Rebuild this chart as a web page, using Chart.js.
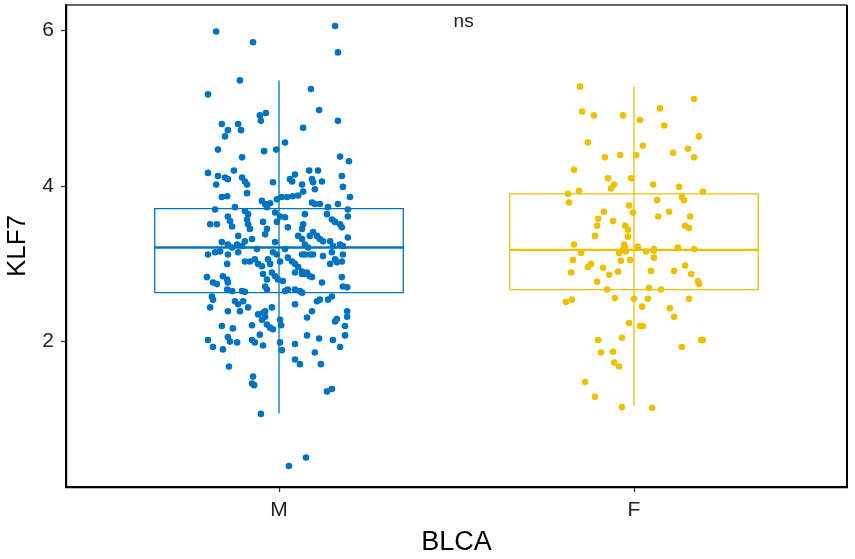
<!DOCTYPE html>
<html>
<head>
<meta charset="utf-8">
<script src="https://cdn.jsdelivr.net/npm/chart.js@4.4.1/dist/chart.umd.min.js"></script>
<style>
  html, body { margin: 0; padding: 0; background: #fff; }
  #wrap { width: 855px; height: 559px; }
</style>
</head>
<body>
<div id="wrap"><canvas id="klf7Chart"></canvas></div>
<script>
// groups on the x axis
const categories = ["M", "F"];
const groupColors = ["#0073C2", "#EFC000"];
const yTicks = [2, 4, 6];

// box statistics per group
const whiskerLow = [1.08, 1.17];
const boxQ1 = [2.63, 2.67];
const boxMedian = [3.21, 3.18];
const boxQ3 = [3.71, 3.90];
const whiskerHigh = [5.36, 5.28];

// male: KLF7 expression and horizontal jitter (category units)
const maleKLF7 = [
  5.99, 5.85, 6.06, 5.72, 5.36, 5.18, 5.25, 4.98, 4.84, 4.91, 4.94, 4.84, 4.80, 4.72, 4.64, 4.80, 4.72, 4.75, 4.56, 4.47,
  4.37, 4.45, 4.47, 4.38, 4.32, 4.20, 4.20, 4.20, 4.17, 4.13, 4.11, 4.09, 4.11, 4.06, 4.02, 4.02, 4.05, 4.15, 4.06, 4.02,
  4.05, 3.96, 4.09, 4.13, 3.99, 3.86, 3.86, 3.87, 3.91, 4.06, 3.93, 4.09, 3.81, 3.77, 3.73, 3.78, 3.83, 3.86, 3.86, 3.87,
  3.88, 3.79, 3.77, 3.77, 3.73, 3.77, 3.70, 3.70, 3.73, 3.61, 3.55, 3.48, 3.68, 3.64, 3.57, 3.51, 3.45, 3.51, 3.51, 3.54,
  3.45, 3.38, 3.66, 3.61, 3.60, 3.54, 3.47, 3.64, 3.51, 3.45, 3.57, 3.54, 3.51, 3.47, 3.61, 3.64, 3.41, 3.36, 3.36, 3.32,
  3.29, 3.36, 3.32, 3.36, 3.25, 3.25, 3.21, 3.23, 3.29, 3.32, 3.28, 3.19, 3.28, 3.15, 3.19, 3.25, 3.21, 3.29, 3.23, 3.25,
  3.23, 3.34, 3.12, 3.15, 3.16, 3.12, 3.00, 3.15, 3.03, 3.03, 3.06, 3.00, 2.97, 3.06, 3.00, 3.12, 3.03, 3.08, 3.03, 3.00,
  2.96, 2.90, 2.87, 2.84, 3.12, 3.12, 3.12, 3.12, 3.10, 3.15, 3.06, 3.02, 3.12, 3.03, 3.00, 2.83, 2.76, 2.74, 2.84, 2.80,
  2.76, 2.67, 2.65, 2.87, 2.80, 2.71, 2.67, 2.89, 2.84, 2.80, 2.78, 2.65, 2.67, 2.67, 2.65, 2.63, 2.89, 2.87, 2.89, 2.83,
  2.76, 2.83, 2.71, 2.70, 2.65, 2.64, 2.58, 2.54, 2.44, 2.52, 2.48, 2.52, 2.44, 2.39, 2.39, 2.44, 2.48, 2.39, 2.52, 2.54,
  2.54, 2.58, 2.39, 2.39, 2.35, 2.37, 2.32, 2.28, 2.28, 2.21, 2.31, 2.32, 2.26, 2.29, 2.20, 2.17, 2.21, 2.22, 2.18, 2.16,
  2.09, 2.20, 2.08, 2.02, 1.93, 1.90, 2.06, 2.00, 1.99, 2.02, 1.99, 1.95, 1.99, 1.89, 1.97, 2.08, 2.04, 2.02, 1.93, 1.86,
  1.77, 1.71, 1.71, 1.68, 1.55, 1.46, 1.44, 1.36, 1.39, 1.07, 0.51, 0.40
];
const maleJitter = [
  -0.177, -0.073, 0.158, 0.166, -0.110, -0.200, 0.090, 0.113, 0.166, -0.054, -0.037, -0.051, -0.161, -0.144, -0.152, -0.115, -0.107, 0.068, 0.017, -0.172,
  -0.104, -0.042, -0.008, 0.172, 0.197, -0.127, 0.085, 0.110, -0.200, -0.172, -0.152, -0.144, -0.104, -0.096, -0.090, -0.177, -0.017, 0.045, 0.037, 0.065,
  0.096, 0.101, 0.093, 0.177, 0.180, 0.200, -0.161, -0.146, -0.090, 0.121, 0.068, 0.031, -0.048, -0.039, -0.034, -0.025, -0.006, 0.008, 0.023, 0.039,
  0.054, 0.093, 0.101, 0.115, 0.138, 0.166, 0.194, -0.180, -0.124, -0.144, -0.138, -0.132, -0.096, -0.087, -0.090, -0.087, -0.082, -0.194, -0.175, -0.045,
  -0.034, -0.039, -0.011, 0.003, 0.017, -0.006, 0.025, 0.073, 0.068, 0.065, 0.149, 0.158, 0.172, 0.177, 0.194, 0.135, 0.096, 0.087, 0.107, 0.115,
  0.124, 0.054, 0.065, -0.115, -0.118, -0.144, -0.132, -0.104, -0.096, -0.076, -0.161, -0.062, -0.011, -0.017, 0.017, 0.073, 0.082, 0.144, 0.152, 0.172,
  0.180, 0.194, -0.200, -0.180, -0.166, -0.144, -0.146, -0.115, -0.096, -0.082, -0.068, -0.059, -0.048, -0.031, -0.025, -0.006, 0.003, 0.025, 0.037, 0.045,
  0.054, 0.065, 0.073, 0.087, 0.065, 0.073, 0.087, 0.096, 0.124, 0.149, 0.158, 0.163, 0.180, 0.177, 0.144, -0.203, -0.186, -0.175, -0.158, -0.146,
  -0.144, -0.146, -0.132, -0.045, -0.034, -0.039, -0.034, -0.020, -0.011, -0.003, 0.011, 0.017, 0.025, 0.045, 0.059, 0.065, 0.045, 0.065, 0.079, 0.093,
  0.121, 0.177, 0.180, 0.192, -0.104, -0.096, -0.189, -0.186, -0.194, -0.124, -0.115, -0.101, -0.087, -0.110, -0.039, -0.020, 0.045, 0.093, 0.107, 0.115,
  0.138, 0.149, 0.192, -0.144, -0.059, -0.045, -0.039, -0.048, 0.003, 0.006, 0.079, 0.192, 0.158, 0.163, -0.161, -0.130, -0.076, -0.034, -0.025, -0.017,
  -0.054, 0.186, 0.186, -0.200, -0.186, -0.158, -0.144, -0.138, -0.118, -0.076, -0.068, -0.045, 0.003, 0.008, 0.045, 0.079, 0.113, 0.152, 0.172, 0.101,
  0.045, 0.059, 0.118, -0.141, -0.073, -0.076, -0.070, 0.135, 0.149, -0.051, 0.076, 0.028
];

// female: KLF7 expression and horizontal jitter (category units)
const femaleKLF7 = [
  5.28, 5.12, 4.96, 4.91, 4.91, 5.00, 4.85, 4.78, 4.64, 4.56, 4.52, 4.37, 4.40, 4.40, 4.43, 4.48, 4.37, 4.21, 4.10, 4.10,
  4.02, 3.97, 4.02, 3.99, 3.94, 3.90, 3.79, 3.93, 3.86, 3.82, 3.82, 3.75, 3.66, 3.67, 3.61, 3.67, 3.61, 3.58, 3.49, 3.55,
  3.49, 3.44, 3.35, 3.49, 3.46, 3.36, 3.25, 3.25, 3.21, 3.22, 3.19, 3.21, 3.19, 3.14, 3.05, 3.14, 3.18, 3.16, 3.04, 3.05,
  3.16, 3.17, 3.08, 2.89, 2.96, 3.00, 2.95, 2.86, 2.90, 2.77, 2.91, 2.91, 2.98, 2.87, 2.78, 2.74, 2.67, 2.69, 2.67, 2.51,
  2.54, 2.56, 2.55, 2.55, 2.45, 2.55, 2.43, 2.32, 2.24, 2.20, 2.20, 2.02, 2.05, 2.02, 2.02, 1.93, 1.86, 1.87, 1.73, 1.68,
  1.48, 1.29, 1.16, 1.15
];
const femaleJitter = [
  -0.152, 0.169, -0.146, -0.113, -0.031, 0.073, 0.017, 0.085, 0.183, -0.130, 0.025, -0.082, -0.039, 0.006, 0.110, 0.152, 0.169, -0.169, -0.073, -0.008,
  -0.056, -0.065, 0.054, 0.127, -0.155, -0.186, -0.183, 0.194, 0.135, 0.141, 0.065, -0.014, -0.003, -0.085, 0.068, 0.099, 0.158, -0.101, -0.104, -0.059,
  -0.025, -0.017, -0.017, 0.144, 0.155, -0.110, -0.169, -0.028, -0.025, 0.011, 0.056, 0.124, 0.169, -0.149, -0.172, -0.042, -0.031, -0.023, -0.037, -0.011,
  0.034, 0.056, 0.056, -0.177, -0.130, -0.121, -0.087, -0.070, -0.045, -0.104, 0.048, 0.113, 0.144, 0.161, 0.180, 0.183, -0.076, 0.042, 0.076, -0.192,
  -0.175, -0.054, 0.000, 0.039, 0.023, 0.155, 0.101, 0.113, -0.014, 0.017, 0.025, -0.101, -0.034, 0.189, 0.194, 0.135, -0.093, -0.059, -0.056, -0.042,
  -0.138, -0.110, -0.034, 0.051
];

const FONT = "'Liberation Sans', Arial, sans-serif";
const BOX_HALF = 0.35; // ggboxplot width 0.7

function jitterPoints(values, jitter, pos) {
  return values.map((v, i) => ({ x: pos + jitter[i], y: v }));
}

function boxDatasets(i) {
  const pos = i + 1;
  const c = groupColors[i];
  const base = { type: "line", showLine: true, pointRadius: 0, borderColor: c, fill: false, order: 2 };
  return [
    {
      ...base,
      borderWidth: 1.3,
      data: [
        { x: pos - BOX_HALF, y: boxQ1[i] },
        { x: pos + BOX_HALF, y: boxQ1[i] },
        { x: pos + BOX_HALF, y: boxQ3[i] },
        { x: pos - BOX_HALF, y: boxQ3[i] },
        { x: pos - BOX_HALF, y: boxQ1[i] },
      ],
    },
    { ...base, borderWidth: 1.3, data: [{ x: pos, y: whiskerLow[i] }, { x: pos, y: whiskerHigh[i] }] },
    { ...base, borderWidth: 2.4, data: [{ x: pos - BOX_HALF, y: boxMedian[i] }, { x: pos + BOX_HALF, y: boxMedian[i] }] },
  ];
}

// panel border on top/right plus the "ns" label
const panelPlugin = {
  id: "panel",
  afterDraw(chart) {
    const { ctx, chartArea, scales } = chart;
    ctx.save();
    ctx.strokeStyle = "#333";
    ctx.lineWidth = 1.5;
    ctx.beginPath();
    ctx.moveTo(chartArea.left, chartArea.top);
    ctx.lineTo(chartArea.right, chartArea.top);
    ctx.stroke();
    ctx.strokeStyle = "#000";
    ctx.lineWidth = 2;
    ctx.beginPath();
    ctx.moveTo(chartArea.right, chartArea.top);
    ctx.lineTo(chartArea.right, chartArea.bottom);
    ctx.stroke();

    ctx.fillStyle = "#222";
    ctx.font = "19px " + FONT;
    ctx.textAlign = "center";
    ctx.textBaseline = "middle";
    ctx.fillText("ns", scales.x.getPixelForValue(1.52), scales.y.getPixelForValue(6.12));
    ctx.restore();
  },
};

function noEdgePadding(scale) {
  scale.paddingTop = 0;
  scale.paddingBottom = 0;
  scale.paddingLeft = 0;
  scale.paddingRight = 0;
}

new Chart(document.getElementById("klf7Chart"), {
  type: "scatter",
  data: {
    datasets: [
      ...boxDatasets(0),
      ...boxDatasets(1),
      {
        label: "M",
        data: jitterPoints(maleKLF7, maleJitter, 1),
        backgroundColor: groupColors[0],
        borderWidth: 0,
        pointRadius: 3.3,
        order: 1,
      },
      {
        label: "F",
        data: jitterPoints(femaleKLF7, femaleJitter, 2),
        backgroundColor: groupColors[1],
        borderWidth: 0,
        pointRadius: 3.3,
        order: 1,
      },
    ],
  },
  options: {
    responsive: true,
    maintainAspectRatio: false,
    animation: false,
    layout: { padding: { top: 5, right: 8, left: 0, bottom: 0 } },
    plugins: { legend: { display: false }, tooltip: { enabled: false } },
    scales: {
      x: {
        type: "linear",
        min: 0.4,
        max: 2.6,
        afterBuildTicks: (scale) => { scale.ticks = categories.map((_, i) => ({ value: i + 1 })); },
        afterFit: (scale) => { scale.height = 72; noEdgePadding(scale); },
        ticks: {
          callback: (v) => categories[Math.round(v) - 1],
          font: { size: 21, family: FONT },
          color: "#222",
          padding: 6,
        },
        grid: { drawOnChartArea: false, drawTicks: true, tickLength: 5, tickColor: "#333", tickWidth: 1.3 },
        border: { display: true, color: "#000", width: 2.2 },
        title: { display: true, text: "BLCA", font: { size: 27, family: FONT }, color: "#000", padding: { top: 0, bottom: 0 } },
      },
      y: {
        min: 0.13,
        max: 6.33,
        afterBuildTicks: (scale) => { scale.ticks = yTicks.map((v) => ({ value: v })); },
        afterFit: (scale) => { scale.width = 66; noEdgePadding(scale); },
        ticks: {
          font: { size: 21, family: FONT },
          color: "#222",
          padding: 7,
        },
        grid: { drawOnChartArea: false, drawTicks: true, tickLength: 5, tickColor: "#333", tickWidth: 1.3 },
        border: { display: true, color: "#000", width: 2.2 },
        title: { display: true, text: "KLF7", font: { size: 26, family: FONT }, color: "#000", padding: { top: 2, bottom: 0 } },
      },
    },
  },
  plugins: [panelPlugin],
});
</script>
</body>
</html>
